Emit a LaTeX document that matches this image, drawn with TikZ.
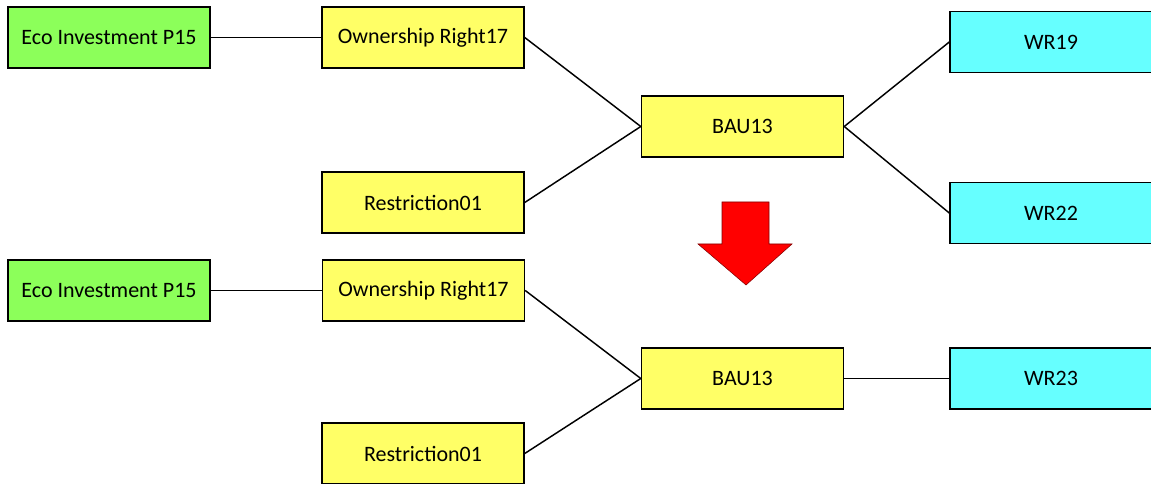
\documentclass[tikz,border=0pt]{standalone}
\usepackage{fontspec}
\setmainfont{Carlito}
\usetikzlibrary{positioning}

\definecolor{ecogreen}{RGB}{140,255,90}
\definecolor{bauyellow}{RGB}{255,255,102}
\definecolor{wrcyan}{RGB}{102,255,255}

\begin{document}
\begin{tikzpicture}[
    x=0.75pt, y=-0.75pt,
    block/.style={rectangle, draw, line width=1.1pt, minimum width=151.5pt, minimum height=45.75pt, inner sep=0pt, font=\fontsize{16.5}{19}\selectfont},
    eco/.style={block, fill=ecogreen},
    bau/.style={block, fill=bauyellow},
    wr/.style={block, fill=wrcyan},
    link/.style={line width=1.1pt},
]
\clip (0,0) rectangle (1151,484);

% ---- before: upper tree ----
\node[eco] (eco1) at (109,37.5) {Eco Investment P15};
\node[bau] (own1) at (423,37.5) {Ownership Right17};
\node[bau] (res1) at (423,202.5) {Restriction01};
\node[bau] (bau1) at (742.5,126.5) {BAU13};
\node[wr] (wr19) at (1051,42) {WR19};
\node[wr] (wr22) at (1051,213) {WR22};

\draw[link] (eco1.east) -- (own1.west);
\draw[link] (own1.east) -- (bau1.west);
\draw[link] (res1.east) -- (bau1.west);
\draw[link] (bau1.east) -- (wr19.west);
\draw[link] (bau1.east) -- (wr22.west);

% ---- red arrow between the two states ----
\draw[fill=red, draw=red!50!black, line width=0.4pt]
    (722,202) -- (769,202) -- (769,244) -- (792,244) -- (746,285) -- (698,244) -- (722,244) -- cycle;

% ---- after: lower tree ----
\node[eco] (eco2) at (109,290.5) {Eco Investment P15};
\node[bau] (own2) at (423.5,290.5) {Ownership Right17};
\node[bau] (res2) at (423,453.5) {Restriction01};
\node[bau] (bau2) at (742.5,378.5) {BAU13};
\node[wr] (wr23) at (1051,378.5) {WR23};

\draw[link] (eco2.east) -- (own2.west);
\draw[link] (own2.east) -- (bau2.west);
\draw[link] (res2.east) -- (bau2.west);
\draw[link] (bau2.east) -- (wr23.west);

\end{tikzpicture}
\end{document}
